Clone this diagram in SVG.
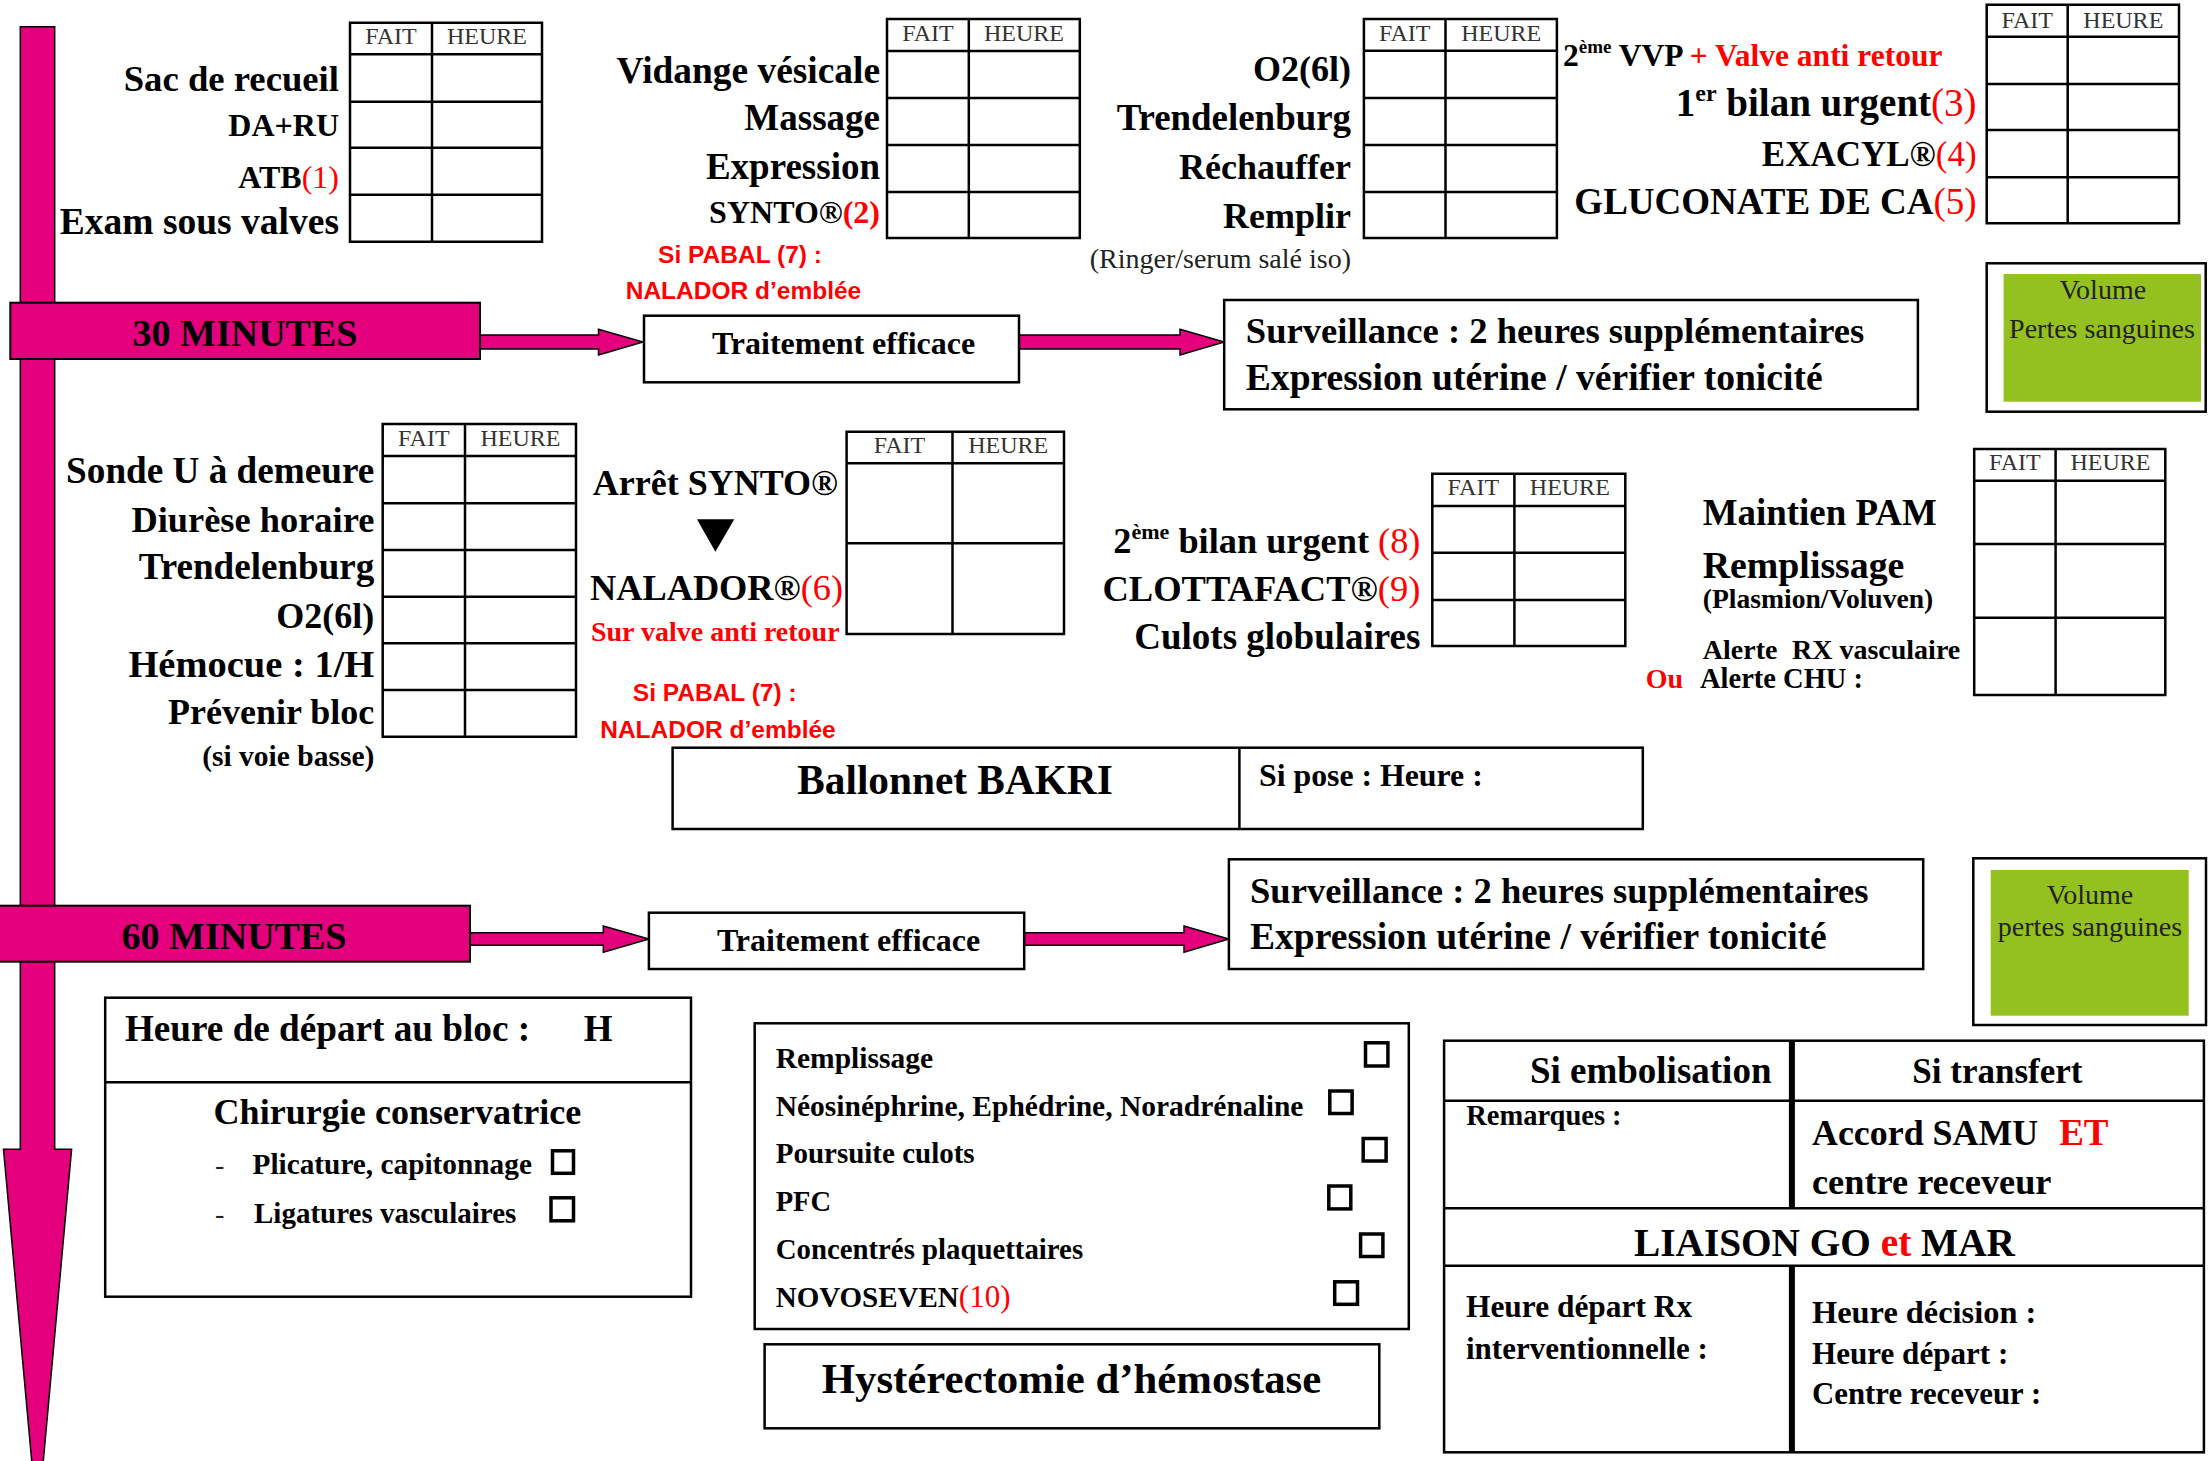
<svg xmlns="http://www.w3.org/2000/svg" width="2208" height="1461" viewBox="0 0 2208 1461">
<style>
.lb{font-family:"Liberation Serif",serif;font-weight:bold;fill:#000}
.e{text-anchor:end}
.m{text-anchor:middle}
.hd{font-family:"Liberation Serif",serif;font-size:24px;fill:#333;text-anchor:middle}
.red{fill:#ff0000}
.nw{font-weight:normal}
.cal{font-family:"Liberation Sans",sans-serif;font-weight:bold;fill:#ff0000;font-size:24.5px;text-anchor:middle}
.reg{font-family:"Liberation Serif",serif;fill:#222}
.box{fill:#fff;stroke:#000;stroke-width:2.5}
.tbl{fill:none;stroke:#000;stroke-width:2.5}
.arr{fill:#E4007C;stroke:#000;stroke-width:1.5}
.cb{fill:none;stroke:#000;stroke-width:3.5}
.green{fill:#94C11F}
</style>
<rect width="2208" height="1461" fill="#fff"/>

<g id="timeline">
<polygon class="arr" points="20.3,26.7 54.7,26.7 54.7,1149.3 71.6,1149.3 37.5,1525 3.5,1149.3 20.3,1149.3"/>
</g>

<g id="connectors">
<polygon class="arr" points="480,335 598.5,335 598.5,329.3 643,342 598.5,355 598.5,349 480,349"/>
<polygon class="arr" points="1019,335 1180,335 1180,329.3 1224.2,342 1180,355 1180,349 1019,349"/>
<polygon class="arr" points="470,932.7 603.3,932.7 603.3,926 649,939 603.3,952.3 603.3,945.3 470,945.3"/>
<polygon class="arr" points="1024.2,932.7 1184,932.7 1184,926 1228.9,939 1184,952.3 1184,945.3 1024.2,945.3"/>
</g>

<g id="min30">
<rect x="10.3" y="302.7" width="469.7" height="56.3" fill="#E4007C" stroke="#000" stroke-width="2"/>
<text class="lb m" x="245" y="346" font-size="38">30 MINUTES</text>
</g>

<g id="min60">
<rect x="-2" y="905.7" width="472" height="56" fill="#E4007C" stroke="#000" stroke-width="2"/>
<text class="lb m" x="234" y="949.3" font-size="38">60 MINUTES</text>
</g>

<g id="block1">
<path class="tbl" d="M350,22.7H542V241.7H350Z M432,22.7V241.7 M350,54.3H542 M350,101.7H542 M350,147.7H542 M350,194.7H542"/>
<text class="hd" x="391" y="44">FAIT</text><text class="hd" x="487" y="44">HEURE</text>
<text class="lb e" x="339" y="91" font-size="36.7">Sac de recueil</text>
<text class="lb e" x="339" y="136" font-size="32">DA+RU</text>
<text class="lb e" x="339" y="187.7" font-size="32">ATB<tspan class="red nw">(1)</tspan></text>
<text class="lb e" x="339" y="234.3" font-size="37.5">Exam sous valves</text>
</g>

<g id="block2">
<path class="tbl" d="M887,19H1079.8V238H887Z M968.8,19V238 M887,51H1079.8 M887,98H1079.8 M887,145H1079.8 M887,192H1079.8"/>
<text class="hd" x="928" y="41">FAIT</text><text class="hd" x="1024" y="41">HEURE</text>
<text class="lb e" x="880" y="82.7" font-size="37.4">Vidange vésicale</text>
<text class="lb e" x="880" y="130.3" font-size="37">Massage</text>
<text class="lb e" x="880" y="179.3" font-size="37">Expression</text>
<text class="lb e" x="880" y="222.7" font-size="32">SYNTO®<tspan class="red">(2)</tspan></text>
<text class="cal" x="740" y="262.7">Si PABAL (7) :</text>
<text class="cal" x="743.5" y="298.7">NALADOR d’emblée</text>
</g>

<g id="block3">
<path class="tbl" d="M1363.9,19H1556.9V238H1363.9Z M1445.5,19V238 M1363.9,50.7H1556.9 M1363.9,98H1556.9 M1363.9,145H1556.9 M1363.9,192H1556.9"/>
<text class="hd" x="1404.7" y="41">FAIT</text><text class="hd" x="1501.2" y="41">HEURE</text>
<text class="lb e" x="1351" y="81" font-size="36">O2(6l)</text>
<text class="lb e" x="1351" y="130.3" font-size="36.9">Trendelenburg</text>
<text class="lb e" x="1351" y="179.3" font-size="36">Réchauffer</text>
<text class="lb e" x="1351" y="227.7" font-size="36">Remplir</text>
<text class="reg e" x="1351" y="267.7" font-size="28">(Ringer/serum salé iso)</text>
</g>

<g id="block4">
<path class="tbl" d="M1986.7,4.7H2179V223.3H1986.7Z M2067.7,4.7V223.3 M1986.7,36.7H2179 M1986.7,84H2179 M1986.7,130H2179 M1986.7,177.3H2179"/>
<text class="hd" x="2027.2" y="28">FAIT</text><text class="hd" x="2123.3" y="28">HEURE</text>
<text class="lb" x="1563" y="66" font-size="31.5">2<tspan font-size="19" dy="-13">ème</tspan><tspan dy="13"> VVP </tspan><tspan class="red">+ Valve anti retour</tspan></text>
<text class="lb e" x="1976.6" y="116" font-size="39">1<tspan font-size="24" dy="-15">er</tspan><tspan dy="15"> bilan urgent</tspan><tspan class="red nw">(3)</tspan></text>
<text class="lb e" x="1976.6" y="166" font-size="35">EXACYL®<tspan class="red nw">(4)</tspan></text>
<text class="lb e" x="1976.6" y="214.3" font-size="37">GLUCONATE DE CA<tspan class="red nw">(5)</tspan></text>
</g>

<g id="traitement1">
<rect class="box" x="644" y="315.7" width="375" height="66.6"/>
<text class="lb m" x="843.5" y="354.3" font-size="32">Traitement efficace</text>
</g>

<g id="surveillance1">
<rect class="box" x="1224.2" y="300" width="693.7" height="109.3"/>
<text class="lb" x="1245.8" y="342.7" font-size="36.6">Surveillance : 2 heures supplémentaires</text>
<text class="lb" x="1245.8" y="390.3" font-size="37.6">Expression utérine / vérifier tonicité</text>
</g>

<g id="volume1">
<rect class="box" x="1986.7" y="263.3" width="219" height="148.4"/>
<rect class="green" x="2003.6" y="274" width="197.4" height="127.7"/>
<text class="reg m" x="2102.8" y="299.3" font-size="28" fill="#000">Volume</text>
<text class="reg m" x="2102" y="337.7" font-size="28" fill="#000">Pertes sanguines</text>
</g>

<g id="block5">
<path class="tbl" d="M382.7,424H576V736.7H382.7Z M465,424V736.7 M382.7,456H576 M382.7,503.3H576 M382.7,550H576 M382.7,596.7H576 M382.7,643.3H576 M382.7,690H576"/>
<text class="hd" x="423.8" y="446">FAIT</text><text class="hd" x="520.5" y="446">HEURE</text>
<text class="lb e" x="374.3" y="482.7" font-size="37.2">Sonde U à demeure</text>
<text class="lb e" x="374.3" y="531.7" font-size="36.4">Diurèse horaire</text>
<text class="lb e" x="374.3" y="579.3" font-size="37.1">Trendelenburg</text>
<text class="lb e" x="374.3" y="627.7" font-size="36">O2(6l)</text>
<text class="lb e" x="374.3" y="677" font-size="38.5">Hémocue : 1/H</text>
<text class="lb e" x="374.3" y="724.3" font-size="36">Prévenir bloc</text>
<text class="lb e" x="374.3" y="766" font-size="29.5">(si voie basse)</text>
</g>

<g id="block6">
<path class="tbl" d="M846.6,431.7H1064V634H846.6Z M952.5,431.7V634 M846.6,463.3H1064 M846.6,543.3H1064"/>
<text class="hd" x="899.5" y="453.3">FAIT</text><text class="hd" x="1008.2" y="453.3">HEURE</text>
<text class="lb m" x="715.4" y="495.3" font-size="36">Arrêt SYNTO®</text>
<polygon points="697,519.3 734.3,519.3 715.4,551.7" fill="#000"/>
<text class="lb e" x="843" y="600" font-size="36.3">NALADOR®<tspan class="red nw">(6)</tspan></text>
<text class="lb e red" x="839.6" y="641" font-size="28">Sur valve anti retour</text>
<text class="cal" x="714.7" y="701">Si PABAL (7) :</text>
<text class="cal" x="718" y="737.7">NALADOR d’emblée</text>
</g>

<g id="block7">
<path class="tbl" d="M1432.3,473.7H1625.3V646H1432.3Z M1514.4,473.7V646 M1432.3,506H1625.3 M1432.3,552.7H1625.3 M1432.3,600H1625.3"/>
<text class="hd" x="1473.3" y="495">FAIT</text><text class="hd" x="1569.8" y="495">HEURE</text>
<text class="lb e" x="1420.4" y="553" font-size="36.3">2<tspan font-size="22" dy="-14">ème</tspan><tspan dy="14"> bilan urgent </tspan><tspan class="red nw">(8)</tspan></text>
<text class="lb e" x="1420.4" y="601" font-size="36.5">CLOTTAFACT®<tspan class="red nw">(9)</tspan></text>
<text class="lb e" x="1420.4" y="649.3" font-size="37">Culots globulaires</text>
</g>

<g id="block8">
<path class="tbl" d="M1974.2,449H2165.3V695H1974.2Z M2055.6,449V695 M1974.2,480.7H2165.3 M1974.2,544H2165.3 M1974.2,617.7H2165.3"/>
<text class="hd" x="2014.9" y="470">FAIT</text><text class="hd" x="2110.5" y="470">HEURE</text>
<text class="lb" x="1702.8" y="525" font-size="36.9">Maintien PAM</text>
<text class="lb" x="1702.8" y="577.7" font-size="37.8">Remplissage</text>
<text class="lb" x="1702.8" y="607.7" font-size="27.6">(Plasmion/Voluven)</text>
<text class="lb" x="1702.8" y="659.3" font-size="28">Alerte<tspan x="1792">RX vasculaire</tspan></text>
<text class="lb red" x="1645.8" y="687.7" font-size="28">Ou</text>
<text class="lb" x="1700" y="687.7" font-size="28.5">Alerte CHU :</text>
</g>

<g id="bakri">
<rect class="box" x="672.6" y="747.7" width="970.2" height="81.3"/>
<line x1="1239.4" y1="747.7" x2="1239.4" y2="829" stroke="#000" stroke-width="2.5"/>
<text class="lb m" x="955" y="794.3" font-size="41.3">Ballonnet BAKRI</text>
<text class="lb" x="1259" y="786" font-size="31.8">Si pose : Heure :</text>
</g>

<g id="traitement2">
<rect class="box" x="648.9" y="912.7" width="375.3" height="56.3"/>
<text class="lb m" x="848.5" y="951" font-size="32">Traitement efficace</text>
</g>

<g id="surveillance2">
<rect class="box" x="1228.9" y="859.3" width="694.3" height="109.7"/>
<text class="lb" x="1250" y="902.7" font-size="36.6">Surveillance : 2 heures supplémentaires</text>
<text class="lb" x="1250" y="949.3" font-size="37.6">Expression utérine / vérifier tonicité</text>
</g>

<g id="volume2">
<rect class="box" x="1973.3" y="858.3" width="232.7" height="166.7"/>
<rect class="green" x="1990.7" y="870" width="198" height="145.7"/>
<text class="reg m" x="2090" y="904.3" font-size="28" fill="#000">Volume</text>
<text class="reg m" x="2090" y="936" font-size="28" fill="#000">pertes sanguines</text>
</g>

<g id="bloc">
<rect class="box" x="105.2" y="997.7" width="585.8" height="299"/>
<line x1="105.2" y1="1082.3" x2="691" y2="1082.3" stroke="#000" stroke-width="2.5"/>
<text class="lb" x="124.9" y="1041" font-size="37.2">Heure de départ au bloc :</text>
<text class="lb" x="583.7" y="1041" font-size="37">H</text>
<text class="lb m" x="397.4" y="1124.3" font-size="36.1">Chirurgie conservatrice</text>
<text class="reg" x="215" y="1174.3" font-size="28">-</text>
<text class="lb" x="252.5" y="1174.3" font-size="29.3">Plicature, capitonnage</text>
<rect class="cb" x="552.5" y="1150.8" width="21" height="22.5"/>
<text class="reg" x="215" y="1222.7" font-size="28">-</text>
<text class="lb" x="254" y="1222.7" font-size="29">Ligatures vasculaires</text>
<rect class="cb" x="551" y="1197.8" width="22.5" height="23"/>
</g>

<g id="traitements">
<rect class="box" x="754.7" y="1023.3" width="654.1" height="305.7"/>
<text class="lb" x="775.7" y="1067.7" font-size="29.5">Remplissage</text>
<text class="lb" x="775.7" y="1116" font-size="29.5">Néosinéphrine, Ephédrine, Noradrénaline</text>
<text class="lb" x="775.7" y="1163.3" font-size="29">Poursuite culots</text>
<text class="lb" x="775.7" y="1211" font-size="28.5">PFC</text>
<text class="lb" x="775.7" y="1259.3" font-size="28.8">Concentrés plaquettaires</text>
<text class="lb" x="775.7" y="1307" font-size="29">NOVOSEVEN<tspan class="red nw" font-size="31">(10)</tspan></text>
<rect class="cb" x="1365.5" y="1042.8" width="22.4" height="23.2"/>
<rect class="cb" x="1329.8" y="1091" width="22.3" height="22.5"/>
<rect class="cb" x="1363.2" y="1138.5" width="22.9" height="22.5"/>
<rect class="cb" x="1328.8" y="1186" width="22" height="22.9"/>
<rect class="cb" x="1360.6" y="1234" width="22.3" height="22.5"/>
<rect class="cb" x="1334.7" y="1281.8" width="22.8" height="22.5"/>
</g>

<g id="hysterectomie">
<rect class="box" x="764.6" y="1344.3" width="614.7" height="84"/>
<text class="lb m" x="1071.5" y="1392.7" font-size="42.8">Hystérectomie d’hémostase</text>
</g>

<g id="liaison">
<rect class="box" x="1444.1" y="1040.7" width="759.8" height="411.6"/>
<path d="M1444.1,1100.7H2203.9 M1444.1,1208.3H2203.9 M1444.1,1265.7H2203.9" stroke="#000" stroke-width="2.5" fill="none"/>
<path d="M1791.9,1040.7V1208.3 M1791.9,1265.7V1452.3" stroke="#000" stroke-width="6" fill="none"/>
<text class="lb m" x="1650.7" y="1082.7" font-size="37">Si embolisation</text>
<text class="lb m" x="1997.4" y="1082.7" font-size="35">Si transfert</text>
<text class="lb" x="1466.2" y="1125" font-size="28.5">Remarques :</text>
<text class="lb" x="1812" y="1145" font-size="35.9">Accord SAMU<tspan class="red" x="2059.2" font-size="37">ET</tspan></text>
<text class="lb" x="1812" y="1193.7" font-size="36.3">centre receveur</text>
<text class="lb m" x="1824.5" y="1256" font-size="39.3">LIAISON GO <tspan class="red">et</tspan> MAR</text>
<text class="lb" x="1466" y="1317" font-size="31.4">Heure départ Rx</text>
<text class="lb" x="1466" y="1359.3" font-size="31">interventionnelle :</text>
<text class="lb" x="1812" y="1322.7" font-size="32.4">Heure décision :</text>
<text class="lb" x="1812" y="1363.7" font-size="31.1">Heure départ :</text>
<text class="lb" x="1812" y="1404.3" font-size="30.8">Centre receveur :</text>
</g>
</svg>
